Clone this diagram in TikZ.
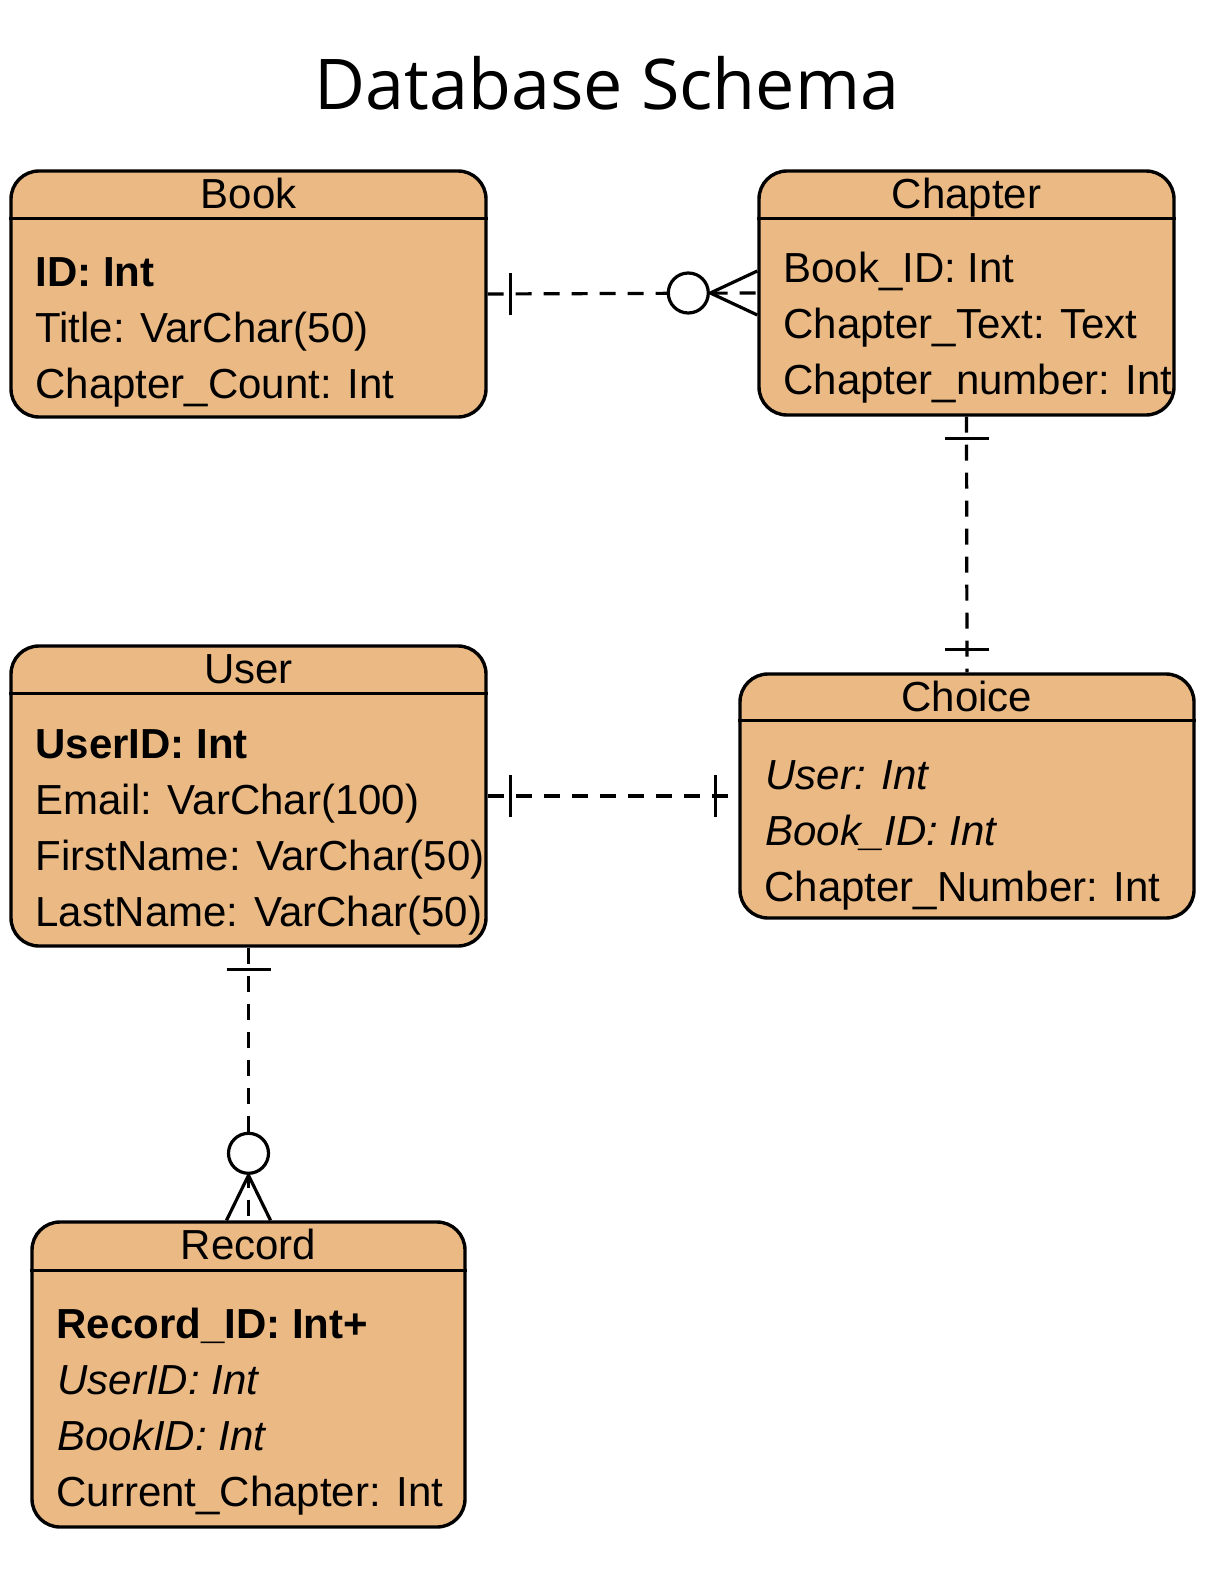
\documentclass[tikz,border=0pt]{standalone}
\usepackage{fontspec}
\setmainfont{Liberation Sans}
\newfontfamily\titlefont{Open Sans}
\usetikzlibrary{calc}
\definecolor{entfill}{RGB}{234,185,132}
\begin{document}
\begin{tikzpicture}[x=1pt,y=-1pt,
  entity/.style={draw=black, line width=3.4pt, fill=entfill, rounded corners=28pt, inner sep=0pt},
  hdrline/.style={line width=3.2pt},
  hdrtext/.style={anchor=base, inner sep=0pt, font=\fontsize{42}{48}\selectfont},
  attr/.style={anchor=base west, inner sep=0pt, font=\fontsize{42}{48}\selectfont},
  rel/.style={line width=3.2pt, dash pattern=on 16pt off 12pt},
  tickmark/.style={line width=3.2pt},
  optcirc/.style={draw, line width=3.2pt, fill=white, circle, minimum size=40pt, inner sep=0pt}
]
\useasboundingbox (0,0) rectangle (1214,1570);
\fill[white] (0,0) rectangle (1214,1570);

\node[inner sep=0pt, anchor=base, font=\titlefont\fontsize{70}{80}\selectfont] (title) at (607,110) {Database Schema};

% Book
\node[entity, minimum width=475pt, minimum height=246pt] (book) at (248.5,294) {};
\draw[hdrline] ($(book.north west)+(0,49)$) -- ($(book.north east)+(0,49)$);
\node[hdrtext] (bookh) at ($(book.north)+(0,39.5)$) {Book};
\node[attr] (book1) at ($(book.north west)+(26,117)$) {\textbf{ID: Int}};
\node[attr] (book2) at ($(book.north west)+(26,173)$) {Title: VarChar(50)};
\node[attr] (book3) at ($(book.north west)+(26,229)$) {Chapter\_Count: Int};

% Chapter
\node[entity, minimum width=415pt, minimum height=244pt] (chapter) at (966.5,293) {};
\draw[hdrline] ($(chapter.north west)+(0,49)$) -- ($(chapter.north east)+(0,49)$);
\node[hdrtext] (chaph) at ($(chapter.north)+(0,39.5)$) {Chapter};
\node[attr] (chap1) at ($(chapter.north west)+(26,113)$) {Book\_ID: Int};
\node[attr] (chap2) at ($(chapter.north west)+(26,169)$) {Chapter\_Text: Text};
\node[attr] (chap3) at ($(chapter.north west)+(26,225)$) {Chapter\_number: Int};

% User
\node[entity, minimum width=475pt, minimum height=300pt] (user) at (248.5,796) {};
\draw[hdrline] ($(user.north west)+(0,49)$) -- ($(user.north east)+(0,49)$);
\node[hdrtext] (userh) at ($(user.north)+(0,39.5)$) {User};
\node[attr] (user1) at ($(user.north west)+(26,114)$) {\textbf{UserID: Int}};
\node[attr] (user2) at ($(user.north west)+(26,170)$) {Email: VarChar(100)};
\node[attr] (user3) at ($(user.north west)+(26,226)$) {FirstName: VarChar(50)};
\node[attr] (user4) at ($(user.north west)+(26,282)$) {LastName: VarChar(50)};

% Choice
\node[entity, minimum width=454pt, minimum height=244pt] (choice) at (967,796) {};
\draw[hdrline] ($(choice.north west)+(0,48)$) -- ($(choice.north east)+(0,48)$);
\node[hdrtext] (choiceh) at ($(choice.north)+(0,39.5)$) {Choice};
\node[attr] (choice1) at ($(choice.north west)+(27,117)$) {\textit{User: Int}};
\node[attr] (choice2) at ($(choice.north west)+(27,173)$) {\textit{Book\_ID: Int}};
\node[attr] (choice3) at ($(choice.north west)+(26,229)$) {Chapter\_Number: Int};

% Record
\node[entity, minimum width=433pt, minimum height=305pt] (record) at (248.5,1374.5) {};
\draw[hdrline] ($(record.north west)+(0,50)$) -- ($(record.north east)+(0,50)$);
\node[hdrtext] (recordh) at ($(record.north)+(0,39.5)$) {Record};
\node[attr] (rec1) at ($(record.north west)+(26,118)$) {\textbf{Record\_ID: Int+}};
\node[attr] (rec2) at ($(record.north west)+(27,174)$) {\textit{UserID: Int}};
\node[attr] (rec3) at ($(record.north west)+(27,230)$) {\textit{BookID: Int}};
\node[attr] (rec4) at ($(record.north west)+(26,286)$) {Current\_Chapter: Int};

% Book -- Chapter (one to zero-or-many)
\draw[rel] (book.east) -- (chapter.west);
\draw[tickmark] ($(book.east)+(23,-21)$) -- ($(book.east)+(23,21)$);
\draw[tickmark] ($(chapter.west)+(0,-22)$) -- ($(chapter.west)+(-47,0)$) -- ($(chapter.west)+(0,22)$);
\node[optcirc] (c1) at ($(chapter.west)+(-69,0)$) {};

% Chapter -- Choice (one to one)
\draw[rel] (chapter.south) -- (choice.north);
\draw[tickmark] ($(chapter.south)+(-22,22)$) -- ($(chapter.south)+(22,22)$);
\draw[tickmark] ($(choice.north)+(-22,-23)$) -- ($(choice.north)+(22,-23)$);

% User -- Choice (one to one)
\draw[rel] (user.east) -- (choice.west);
\draw[tickmark] ($(user.east)+(23,-21)$) -- ($(user.east)+(23,21)$);
\draw[tickmark] ($(choice.west)+(-23,-21)$) -- ($(choice.west)+(-23,21)$);

% User -- Record (one to zero-or-many)
\draw[rel] (user.south) -- (record.north);
\draw[tickmark] ($(user.south)+(-22,22)$) -- ($(user.south)+(22,22)$);
\draw[tickmark] ($(record.north)+(-22,0)$) -- ($(record.north)+(0,-45)$) -- ($(record.north)+(22,0)$);
\node[optcirc] (c2) at ($(record.north)+(0,-67)$) {};
\end{tikzpicture}
\end{document}
